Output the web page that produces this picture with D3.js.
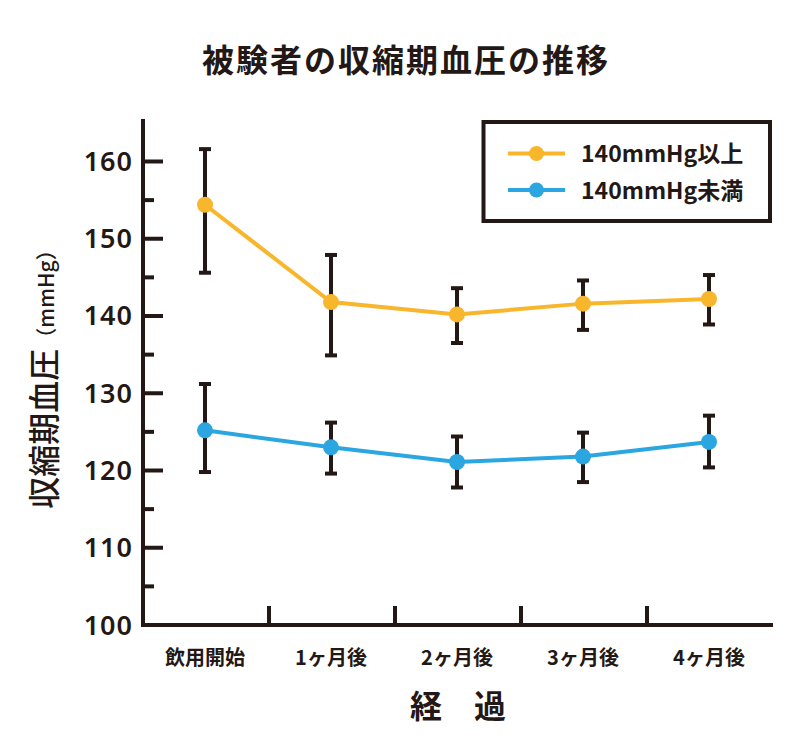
<!DOCTYPE html>
<html>
<head>
<meta charset="utf-8">
<script src="https://cdn.jsdelivr.net/npm/d3@7"></script>
<style>
  html, body { margin: 0; padding: 0; background: #fff; }
  svg { display: block; }
  text { font-family: "Noto Sans CJK JP", "Noto Sans", sans-serif; fill: #231815; }
</style>
</head>
<body>
<svg id="chart" width="800" height="740"></svg>
<script>
// ---- data ----
const categories = ["飲用開始", "1ヶ月後", "2ヶ月後", "3ヶ月後", "4ヶ月後"];
const seriesNames = ["140mmHg以上", "140mmHg未満"];
const highMean  = [154.4, 141.8, 140.2, 141.6, 142.2];
const highUpper = [161.6, 147.9, 143.6, 144.6, 145.3];
const highLower = [145.6, 134.9, 136.5, 138.2, 138.9];
const lowMean   = [125.2, 123.0, 121.1, 121.8, 123.7];
const lowUpper  = [131.2, 126.2, 124.4, 124.9, 127.1];
const lowLower  = [119.8, 119.6, 117.8, 118.5, 120.4];
const yMajorTicks = [100, 110, 120, 130, 140, 150, 160];
const yMinorTicks = [105, 115, 125, 135, 145, 155];

const colors = ["#F8B62D", "#2BA6E0"];
const ink = "#231815";

const series = [
  { name: seriesNames[0], color: colors[0], mean: highMean, upper: highUpper, lower: highLower },
  { name: seriesNames[1], color: colors[1], mean: lowMean,  upper: lowUpper,  lower: lowLower }
];

const svg = d3.select("#chart");
const plotL = 143, plotR = 773, plotT = 119, plotB = 625;

const x = d3.scaleBand().domain(categories).range([plotL, plotR]).padding(0);
const y = d3.scaleLinear().domain([100, 165.5]).range([plotB, plotT]);
const cx = c => x(c) + x.bandwidth() / 2 - 1;

// title
svg.append("text")
  .attr("x", 406).attr("y", 72)
  .attr("text-anchor", "middle")
  .style("font-size", "32px").style("font-weight", 600)
  .style("letter-spacing", "2px")
  .text("被験者の収縮期血圧の推移");

// y axis line
svg.append("line")
  .attr("x1", plotL).attr("x2", plotL)
  .attr("y1", plotT).attr("y2", plotB + 2)
  .attr("stroke", ink).attr("stroke-width", 4);

// x axis line
svg.append("line")
  .attr("x1", plotL - 2).attr("x2", plotR)
  .attr("y1", plotB).attr("y2", plotB)
  .attr("stroke", ink).attr("stroke-width", 4);

// y major ticks (inward)
svg.append("g").selectAll("line").data(yMajorTicks.filter(d => d > 100)).join("line")
  .attr("x1", plotL).attr("x2", plotL + 20)
  .attr("y1", d => y(d)).attr("y2", d => y(d))
  .attr("stroke", ink).attr("stroke-width", 4);
svg.append("g").selectAll("line").data(yMinorTicks).join("line")
  .attr("x1", plotL).attr("x2", plotL + 11)
  .attr("y1", d => y(d)).attr("y2", d => y(d))
  .attr("stroke", ink).attr("stroke-width", 4);

// y tick labels
svg.append("g").selectAll("text").data(yMajorTicks).join("text")
  .attr("x", 133).attr("y", d => y(d) + 9.5)
  .attr("text-anchor", "end")
  .style("font-family", "'Noto Sans', sans-serif")
  .style("font-size", "27px").style("font-weight", 600)
  .style("letter-spacing", "1px")
  .text(d => d);

// x ticks at band boundaries (inward)
svg.append("g").selectAll("line").data(categories.slice(1)).join("line")
  .attr("x1", d => x(d)).attr("x2", d => x(d))
  .attr("y1", plotB).attr("y2", plotB - 19)
  .attr("stroke", ink).attr("stroke-width", 4);

// x tick labels
svg.append("g").selectAll("text").data(categories).join("text")
  .attr("x", d => cx(d)).attr("y", 665)
  .attr("text-anchor", "middle")
  .style("font-size", "20px").style("font-weight", 700)
  .text(d => d);

// x axis title
svg.append("text")
  .attr("x", 458).attr("y", 718)
  .attr("text-anchor", "middle")
  .style("font-size", "32px").style("font-weight", 600)
  .text("経　過");

// y axis title
const yt = svg.append("text")
  .attr("transform", "translate(56,374) rotate(-90)")
  .attr("text-anchor", "middle");
yt.append("tspan").style("font-size", "32px").style("font-weight", 500).text("収縮期血圧");
yt.append("tspan").style("font-size", "21px").style("font-weight", 500).attr("dy", -2).text("（mmHg）");

// error bars
series.forEach(s => {
  const g = svg.append("g");
  categories.forEach((c, i) => {
    const xc = cx(c);
    g.append("line").attr("x1", xc).attr("x2", xc)
      .attr("y1", y(s.upper[i])).attr("y2", y(s.lower[i]))
      .attr("stroke", ink).attr("stroke-width", 4);
    [s.upper[i], s.lower[i]].forEach(v => {
      g.append("line").attr("x1", xc - 6).attr("x2", xc + 6)
        .attr("y1", y(v)).attr("y2", y(v))
        .attr("stroke", ink).attr("stroke-width", 4);
    });
  });
});

// lines and points
const lineGen = d3.line().x(d => cx(d.c)).y(d => y(d.v));
series.forEach(s => {
  const pts = categories.map((c, i) => ({ c, v: s.mean[i] }));
  svg.append("path").datum(pts)
    .attr("d", lineGen)
    .attr("fill", "none").attr("stroke", s.color).attr("stroke-width", 4);
  svg.append("g").selectAll("circle").data(pts).join("circle")
    .attr("cx", d => cx(d.c)).attr("cy", d => y(d.v)).attr("r", 8)
    .attr("fill", s.color);
});

// legend
svg.append("rect")
  .attr("x", 483.5).attr("y", 122).attr("width", 286.5).attr("height", 99)
  .attr("fill", "#fff").attr("stroke", ink).attr("stroke-width", 4);
const legRows = [153.5, 190];
series.forEach((s, i) => {
  const ly = legRows[i];
  svg.append("line").attr("x1", 508).attr("x2", 565).attr("y1", ly).attr("y2", ly)
    .attr("stroke", s.color).attr("stroke-width", 4);
  svg.append("circle").attr("cx", 536.5).attr("cy", ly).attr("r", 7.5).attr("fill", s.color);
  svg.append("text").attr("x", 581).attr("y", ly + 8.5)
    .style("font-size", "23px").style("font-weight", 700)
    .text(s.name);
});
</script>
</body>
</html>
